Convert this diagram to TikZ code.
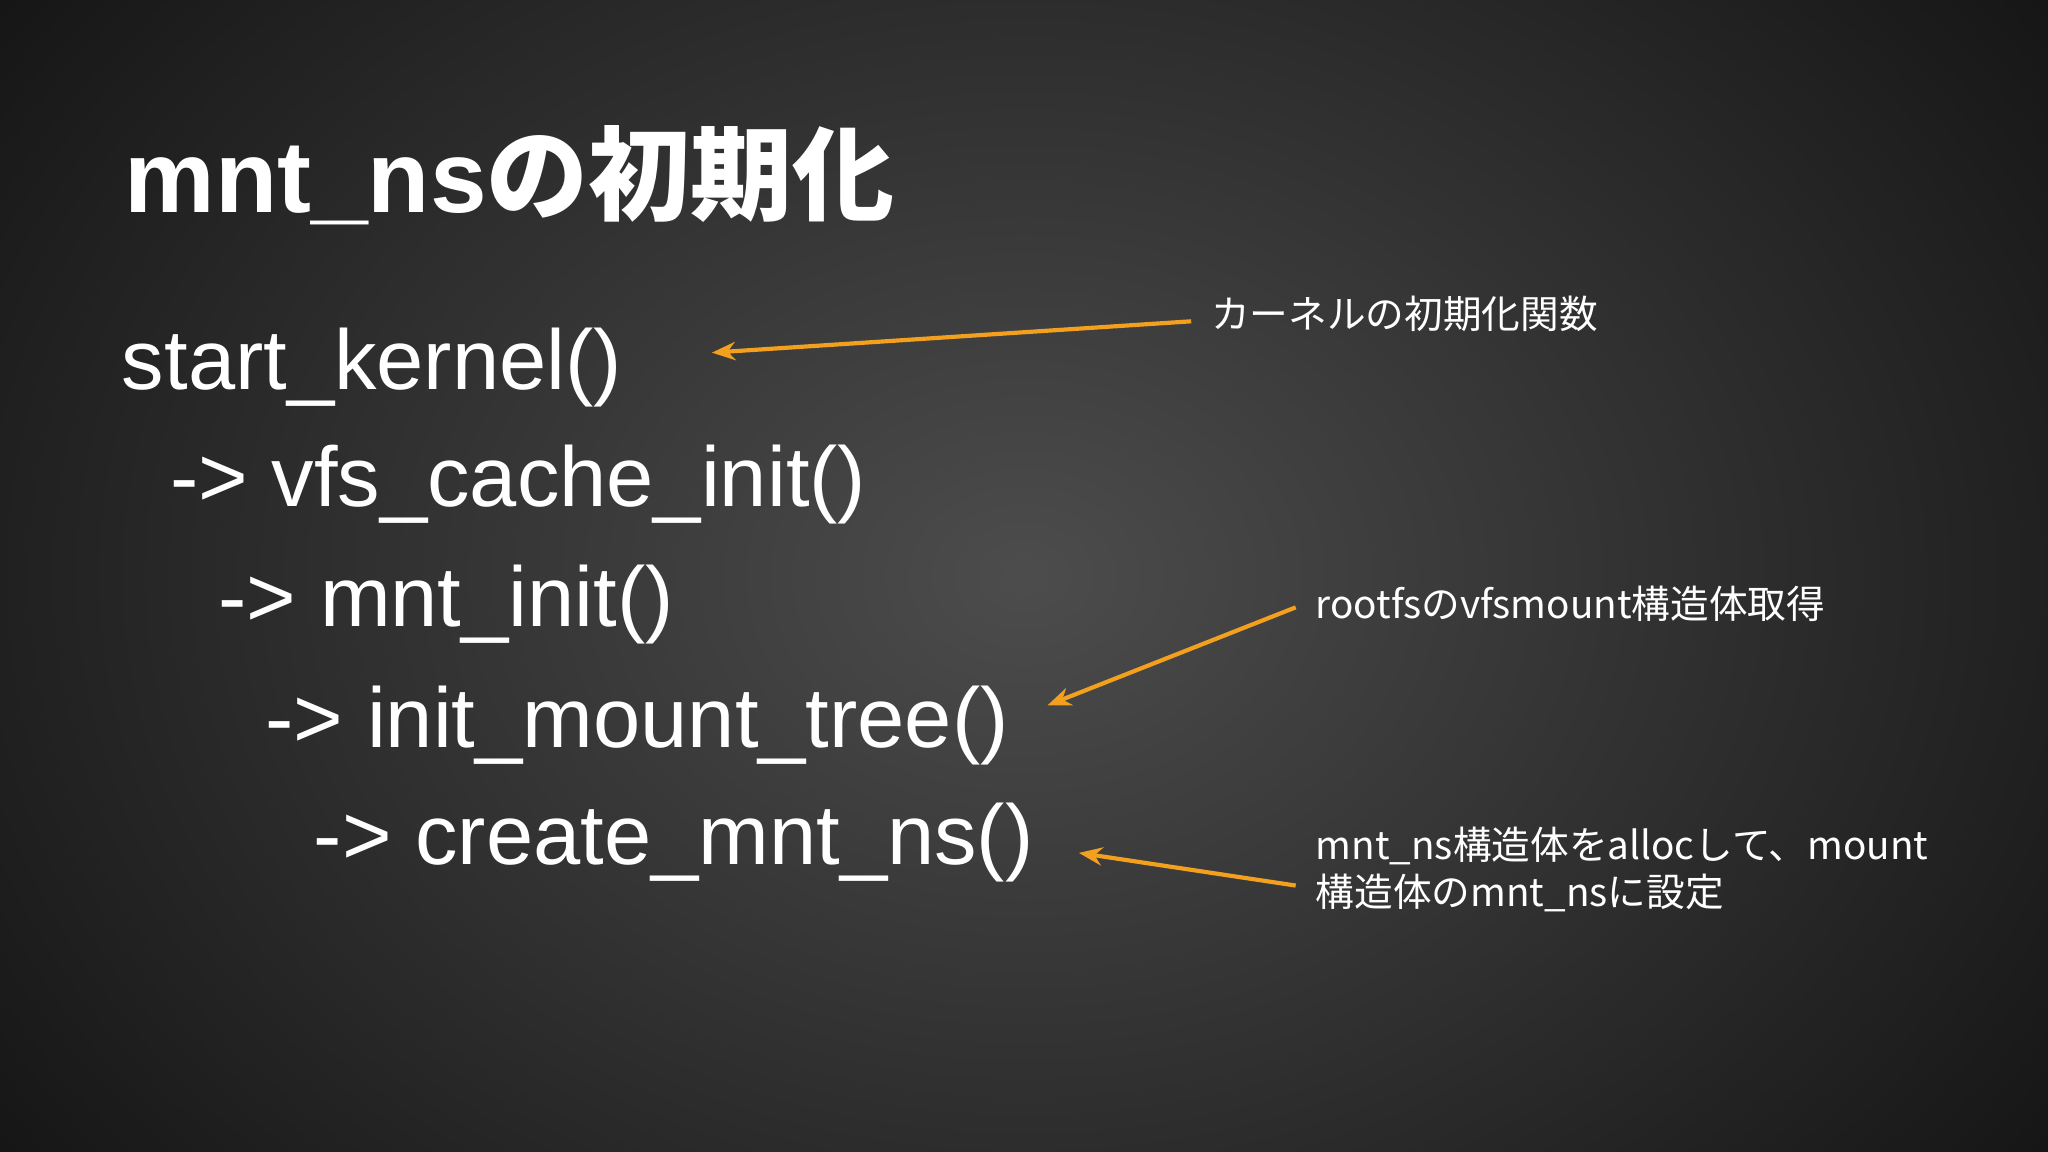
\documentclass[tikz,border=0pt]{standalone}
\usepackage{fontspec}
\setmainfont{Liberation Sans}
\newfontfamily\cjk{Noto Sans CJK JP}
\usetikzlibrary{arrows.meta}
\definecolor{org}{HTML}{F2A01E}
\tikzset{
  code/.style={anchor=base west,text=white,font=\fontsize{32.5pt}{36pt}\selectfont,inner sep=0},
  note/.style={anchor=west,text=white,font=\cjk\fontsize{14.8pt}{18pt}\selectfont,inner sep=0,align=left},
  arr/.style={org,line width=1.6pt,-{Stealth[length=9pt,width=7pt]}}
}
\begin{document}
\begin{tikzpicture}[x=0.5pt,y=-0.5pt]
\useasboundingbox (0,0) rectangle (1568,882);
\shade[inner color=black!70!white, outer color=black!94!white] (-300,-400) rectangle (1868,1282);
\node[code,font=\bfseries\fontsize{39pt}{44pt}\selectfont] (title) at (95,163) {mnt\_ns{\cjk\bfseries の初期化}};
\node[code] (c1) at (93,298) {start\_kernel()};
\node[code] (c2) at (130,388) {-> vfs\_cache\_init()};
\node[code] (c3) at (167,480) {-> mnt\_init()};
\node[code] (c4) at (203,572) {-> init\_mount\_tree()};
\node[code] (c5) at (240,662) {-> create\_mnt\_ns()};
\node[note] (n1) at (927,240) {カーネルの初期化関数};
\node[note] (n2) at (1007,462) {rootfsのvfsmount構造体取得};
\node[note] (n3) at (1007,666) {mnt\_ns構造体をallocして、mount\\構造体のmnt\_nsに設定};
\coordinate (a1s) at (912,246); \coordinate (a1e) at (545,270);
\coordinate (a2s) at (992,465); \coordinate (a2e) at (802,540);
\coordinate (a3s) at (992,678); \coordinate (a3e) at (826,653);
\draw[arr] (a1s) -- (a1e);
\draw[arr] (a2s) -- (a2e);
\draw[arr] (a3s) -- (a3e);
\end{tikzpicture}
\end{document}
